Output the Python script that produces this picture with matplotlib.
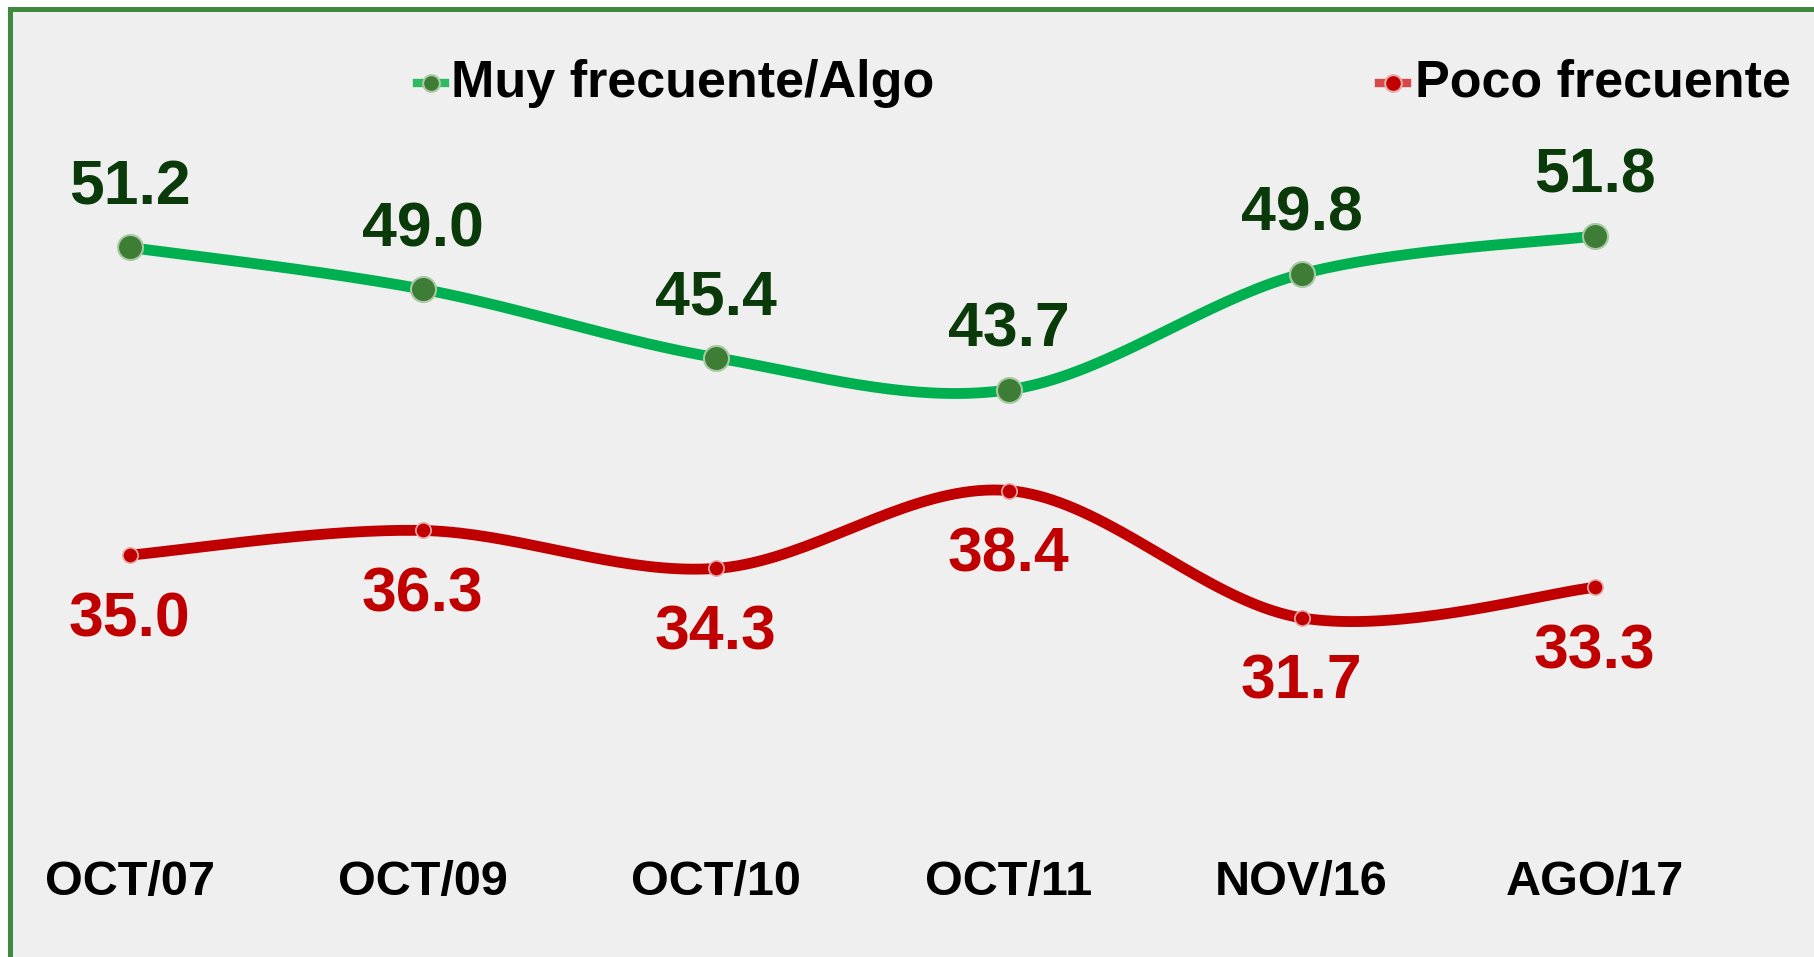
import matplotlib.pyplot as plt
import numpy as np
from matplotlib.patches import Rectangle
from matplotlib.transforms import blended_transform_factory

# datos
fechas = ['OCT/07', 'OCT/09', 'OCT/10', 'OCT/11', 'NOV/16', 'AGO/17']
muy_frecuente = [51.2, 49.0, 45.4, 43.7, 49.8, 51.8]
poco_frecuente = [35.0, 36.3, 34.3, 38.4, 31.7, 33.3]
series = ['Muy frecuente/Algo', 'Poco frecuente']

plt.rcParams['font.family'] = ['Liberation Sans', 'DejaVu Sans']


def suave(x, y, n=40):
    # curva tipo Catmull-Rom (como la linea suavizada de Excel)
    x = np.asarray(x, float)
    y = np.asarray(y, float)
    px = np.concatenate([[x[0]], x, [x[-1]]])
    py = np.concatenate([[y[0]], y, [y[-1]]])
    xs, ys = [], []
    t = np.linspace(0, 1, n)
    for i in range(1, len(px) - 2):
        p0 = np.array([px[i], py[i]])
        p3 = np.array([px[i + 1], py[i + 1]])
        b1 = p0 + (p3 - np.array([px[i - 1], py[i - 1]])) / 6
        b2 = p3 - (np.array([px[i + 2], py[i + 2]]) - p0) / 6
        c = ((1 - t) ** 3)[:, None] * p0 + (3 * (1 - t) ** 2 * t)[:, None] * b1 \
            + (3 * (1 - t) * t ** 2)[:, None] * b2 + (t ** 3)[:, None] * p3
        xs.extend(c[:, 0])
        ys.extend(c[:, 1])
    return xs, ys


fig = plt.figure(figsize=(18.14, 9.57), dpi=100)
fig.patch.set_facecolor('white')
# fondo gris con borde verde
fig.patches.append(Rectangle((9.5 / 1814, -0.1), 2, 1.1 - 9.5 / 957, transform=fig.transFigure,
                             facecolor='#EFEFEF', edgecolor='#3E8A3E', lw=3.6, zorder=-5))

ax = fig.add_axes([0, 0, 1, 1])
ax.set_facecolor('none')
ax.axis('off')
ax.set_xlim(-0.442, 5.749)
ax.set_ylim(13.85, 64.22)

x = np.arange(len(fechas))

sx, sy = suave(x, muy_frecuente)
ax.plot(sx, sy, color='#00B050', lw=7.8, solid_capstyle='round', zorder=2)
ax.plot(x, muy_frecuente, 'o', ms=18, mfc='#3D7D35', mec='#A9C9A5', mew=1.5, zorder=3)

sx, sy = suave(x, poco_frecuente)
ax.plot(sx, sy, color='#C00000', lw=7.8, solid_capstyle='round', zorder=2)
ax.plot(x, poco_frecuente, 'o', ms=11, mfc='#C00000', mec='#E8A8A8', mew=1.2, zorder=3)

tr = blended_transform_factory(ax.transData, fig.transFigure)

# etiquetas de datos
for i in range(len(fechas)):
    ax.annotate('%.1f' % muy_frecuente[i], (x[i], muy_frecuente[i]), xytext=(0, 43),
                textcoords='offset pixels', ha='center', va='baseline',
                fontsize=45, fontweight='bold', color='#0A3A0A')
    ax.annotate('%.1f' % poco_frecuente[i], (x[i], poco_frecuente[i]), xytext=(0, -81),
                textcoords='offset pixels', ha='center', va='baseline',
                fontsize=45, fontweight='bold', color='#C00000')
    # etiquetas del eje x
    ax.text(x[i], 1 - 882 / 957, fechas[i], transform=tr,
            ha='center', va='center', fontsize=35, fontweight='bold')

# leyenda hecha a mano
leg_y = 1 - 83 / 957
for lx, tx, col, mfc, mec, nombre in [(431, 451, '#2DBA62', '#3D7D35', '#A9C9A5', series[0]),
                                      (1393, 1415, '#D84848', '#C00000', '#E8A8A8', series[1])]:
    fig.lines.append(plt.Line2D([(lx - 14) / 1814, (lx + 14) / 1814], [leg_y, leg_y],
                                transform=fig.transFigure, color=col, lw=6))
    fig.lines.append(plt.Line2D([lx / 1814], [leg_y], transform=fig.transFigure, marker='o',
                                ms=12, mfc=mfc, mec=mec, mew=1.5))
    fig.text(tx / 1814, leg_y, nombre, ha='left', va='center', fontsize=37.5, fontweight='bold')

fig.savefig('out.png', dpi=100)
